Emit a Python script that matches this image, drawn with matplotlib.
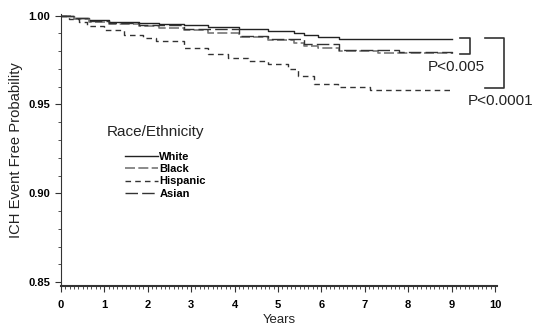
import matplotlib.pyplot as plt
from matplotlib.ticker import MultipleLocator

plt.rcParams['font.family'] = ['Liberation Sans', 'DejaVu Sans']

# Kaplan-Meier style step curves
whiteYears = [0, 0.3, 0.64, 1.1, 1.8, 2.25, 2.83, 3.4, 4.1, 4.78, 5.36, 5.6, 5.93, 6.4, 9.0]
whiteProb = [1.0, 0.9989, 0.9978, 0.9966, 0.9961, 0.9955, 0.9947, 0.9938,
             0.9927, 0.9916, 0.9904, 0.9890, 0.9879, 0.9871, 0.9871]

blackYears = [0, 0.3, 0.64, 1.1, 1.8, 2.25, 2.83, 3.4, 4.1, 4.78, 5.36, 5.6, 5.93, 6.4, 7.3, 9.0]
blackProb = [1.0, 0.9983, 0.9966, 0.9955, 0.9941, 0.9933, 0.9921, 0.9904,
             0.9882, 0.9865, 0.9848, 0.9831, 0.9817, 0.9803, 0.9792, 0.9787]

hispYears = [0, 0.18, 0.41, 0.6, 0.99, 1.45, 1.9, 2.2, 2.83, 3.4, 3.86, 4.32,
             4.78, 5.24, 5.47, 5.82, 6.39, 7.13, 9.0]
hispProb = [1.0, 0.9983, 0.9966, 0.9944, 0.9921, 0.9893, 0.9876, 0.9860, 0.9820,
            0.9787, 0.9764, 0.9744, 0.9730, 0.9702, 0.9663, 0.9618, 0.9596,
            0.9579, 0.9579]

asianYears = [0, 0.3, 0.64, 1.1, 1.8, 2.83, 4.1, 4.78, 5.6, 6.4, 7.8, 9.0]
asianProb = [1.0, 0.9986, 0.9972, 0.9961, 0.9947, 0.9927, 0.9888, 0.9871,
             0.9840, 0.9809, 0.9795, 0.9792]

fig = plt.figure(figsize=(5.34, 3.31), dpi=100)
ax = fig.add_axes([0.114, 0.136, 0.817, 0.822])

ax.plot(whiteYears, whiteProb, drawstyle='steps-post', color='#222222',
        linewidth=1.0, label='White')
ax.plot(blackYears, blackProb, drawstyle='steps-post', color='#777777',
        linewidth=1.2, dashes=(6, 2), label='Black')
ax.plot(hispYears, hispProb, drawstyle='steps-post', color='#333333',
        linewidth=1.0, dashes=(4, 3), label='Hispanic')
ax.plot(asianYears, asianProb, drawstyle='steps-post', color='#333333',
        linewidth=1.0, dashes=(9, 3), label='Asian')

# p-value brackets
ax.plot([9.2, 9.43, 9.43, 9.2], [0.9876, 0.9876, 0.9787, 0.9787],
        color='#333333', linewidth=1.2, clip_on=False)
ax.plot([9.77, 10.2, 10.2, 9.77], [0.9876, 0.9876, 0.959, 0.959],
        color='#333333', linewidth=1.2, clip_on=False)
ax.text(9.1, 0.9713, 'P<0.005', fontsize=11, ha='center', va='center',
        color='#222222')
ax.text(9.38, 0.9520, 'P<0.0001', fontsize=11, ha='left', va='center',
        color='#222222', clip_on=False)

ax.set_xlim(0, 10.05)
ax.set_ylim(0.8478, 1.001)
ax.xaxis.set_major_locator(MultipleLocator(1))
ax.xaxis.set_minor_locator(MultipleLocator(0.1))
ax.yaxis.set_minor_locator(MultipleLocator(0.01))
ax.set_yticks([0.85, 0.90, 0.95, 1.00])
ax.set_yticklabels(['0.85', '0.90', '0.95', '1.00'])
ax.tick_params(which='major', length=4, labelsize=8, color='#333333')
ax.tick_params(which='minor', length=2, color='#333333')
ax.tick_params(axis='x', pad=6)
for lab in ax.get_xticklabels() + ax.get_yticklabels():
    lab.set_fontweight('bold')

ax.spines['top'].set_visible(False)
ax.spines['right'].set_visible(False)
ax.spines['left'].set_color('#333333')
ax.spines['bottom'].set_color('#333333')
ax.spines['bottom'].set_linewidth(1.5)

ax.set_ylabel('ICH Event Free Probability', fontsize=10.6, color='#222222')
ax.set_xlabel('Years', fontsize=9.5, color='#222222', labelpad=3)

fig.text(155 / 534, 1 - 132 / 331, 'Race/Ethnicity', fontsize=11,
         ha='center', va='center', color='#222222')
leg = ax.legend(loc='upper left', bbox_to_anchor=(125 / 534, 1 - 152 / 331),
                bbox_transform=fig.transFigure, frameon=False, fontsize=8,
                handlelength=3.0, handletextpad=0.1, labelspacing=0.2,
                borderpad=0, borderaxespad=0)
for t in leg.get_texts():
    t.set_fontweight('bold')

plt.savefig('out.png', dpi=100)
